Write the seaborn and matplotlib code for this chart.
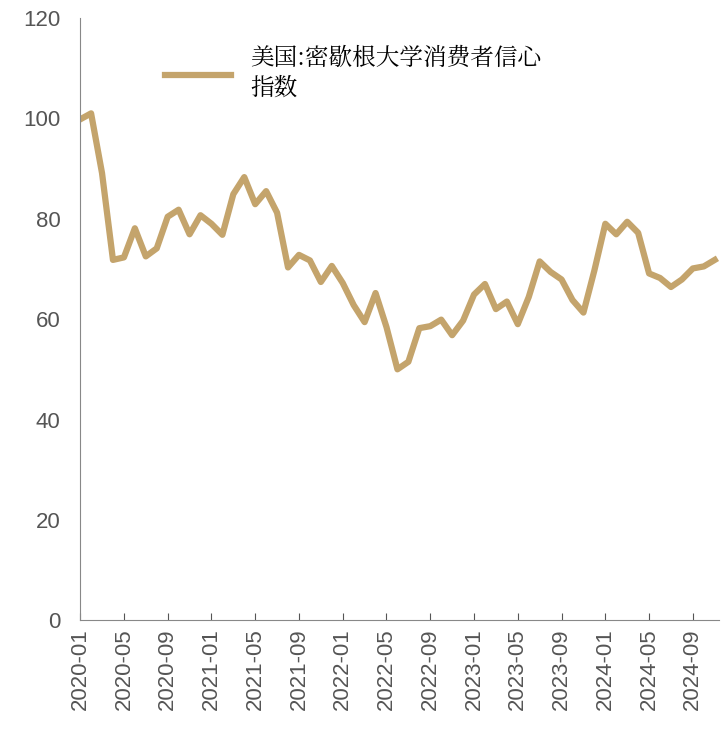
import matplotlib
matplotlib.use("Agg")
import matplotlib.pyplot as plt
from matplotlib import font_manager
import seaborn as sns
import pandas as pd

months = pd.date_range("2020-01", "2024-11", freq="MS").strftime("%Y-%m").tolist()
values = [99.8, 101.0, 89.1, 71.8, 72.3, 78.1, 72.5, 74.1, 80.4, 81.8, 76.9, 80.7,
          79.0, 76.8, 84.9, 88.3, 82.9, 85.5, 81.2, 70.3, 72.8, 71.7, 67.4, 70.6,
          67.2, 62.8, 59.4, 65.2, 58.4, 50.0, 51.5, 58.2, 58.6, 59.9, 56.8, 59.7,
          64.9, 67.0, 62.0, 63.5, 59.0, 64.4, 71.5, 69.4, 67.9, 63.8, 61.3, 69.7,
          79.0, 76.9, 79.4, 77.2, 69.1, 68.2, 66.4, 67.9, 70.1, 70.5, 71.8]
label = "美国:密歇根大学消费者信心\n指数"

df = pd.DataFrame({"idx": range(len(months)), "value": values})

# find an installed CJK font by its registered name
cjk = [f.name for f in font_manager.fontManager.ttflist if "CJK" in f.name]
cjk_name = "Noto Sans CJK SC" if "Noto Sans CJK SC" in cjk else (cjk[0] if cjk else "DejaVu Sans")
cjk_prop = font_manager.FontProperties(family=cjk_name, size=17)

plt.rcParams["font.family"] = ["Liberation Sans", cjk_name]
fig = plt.figure(figsize=(7.22, 7.5), dpi=100)
ax = fig.add_axes([0.111, 0.173, 0.885, 0.803])
sns.lineplot(data=df, x="idx", y="value", ax=ax, color="#C4A46C", linewidth=4.5, label=label)

ax.set_ylim(0, 120)
ax.set_yticks(range(0, 121, 20))
ax.set_xlim(0, len(months) - 0.6)
ticks = list(range(0, len(months), 4))
ax.set_xticks(ticks)
ax.set_xticklabels([months[i] for i in ticks], rotation=90)
ax.set_xlabel("")
ax.set_ylabel("")
for s in ["top", "right"]:
    ax.spines[s].set_visible(False)
for s in ["left", "bottom"]:
    ax.spines[s].set_color("#888888")
ax.tick_params(axis="both", colors="#555555", labelsize=16)
ax.tick_params(axis="y", length=0, pad=14)
ax.tick_params(axis="x", direction="in", length=5, pad=6)
ax.legend(loc="upper left", bbox_to_anchor=(0.1, 0.99), frameon=False, prop=cjk_prop,
          handlelength=2.8, alignment="left")
fig.savefig("out.png", dpi=100)
